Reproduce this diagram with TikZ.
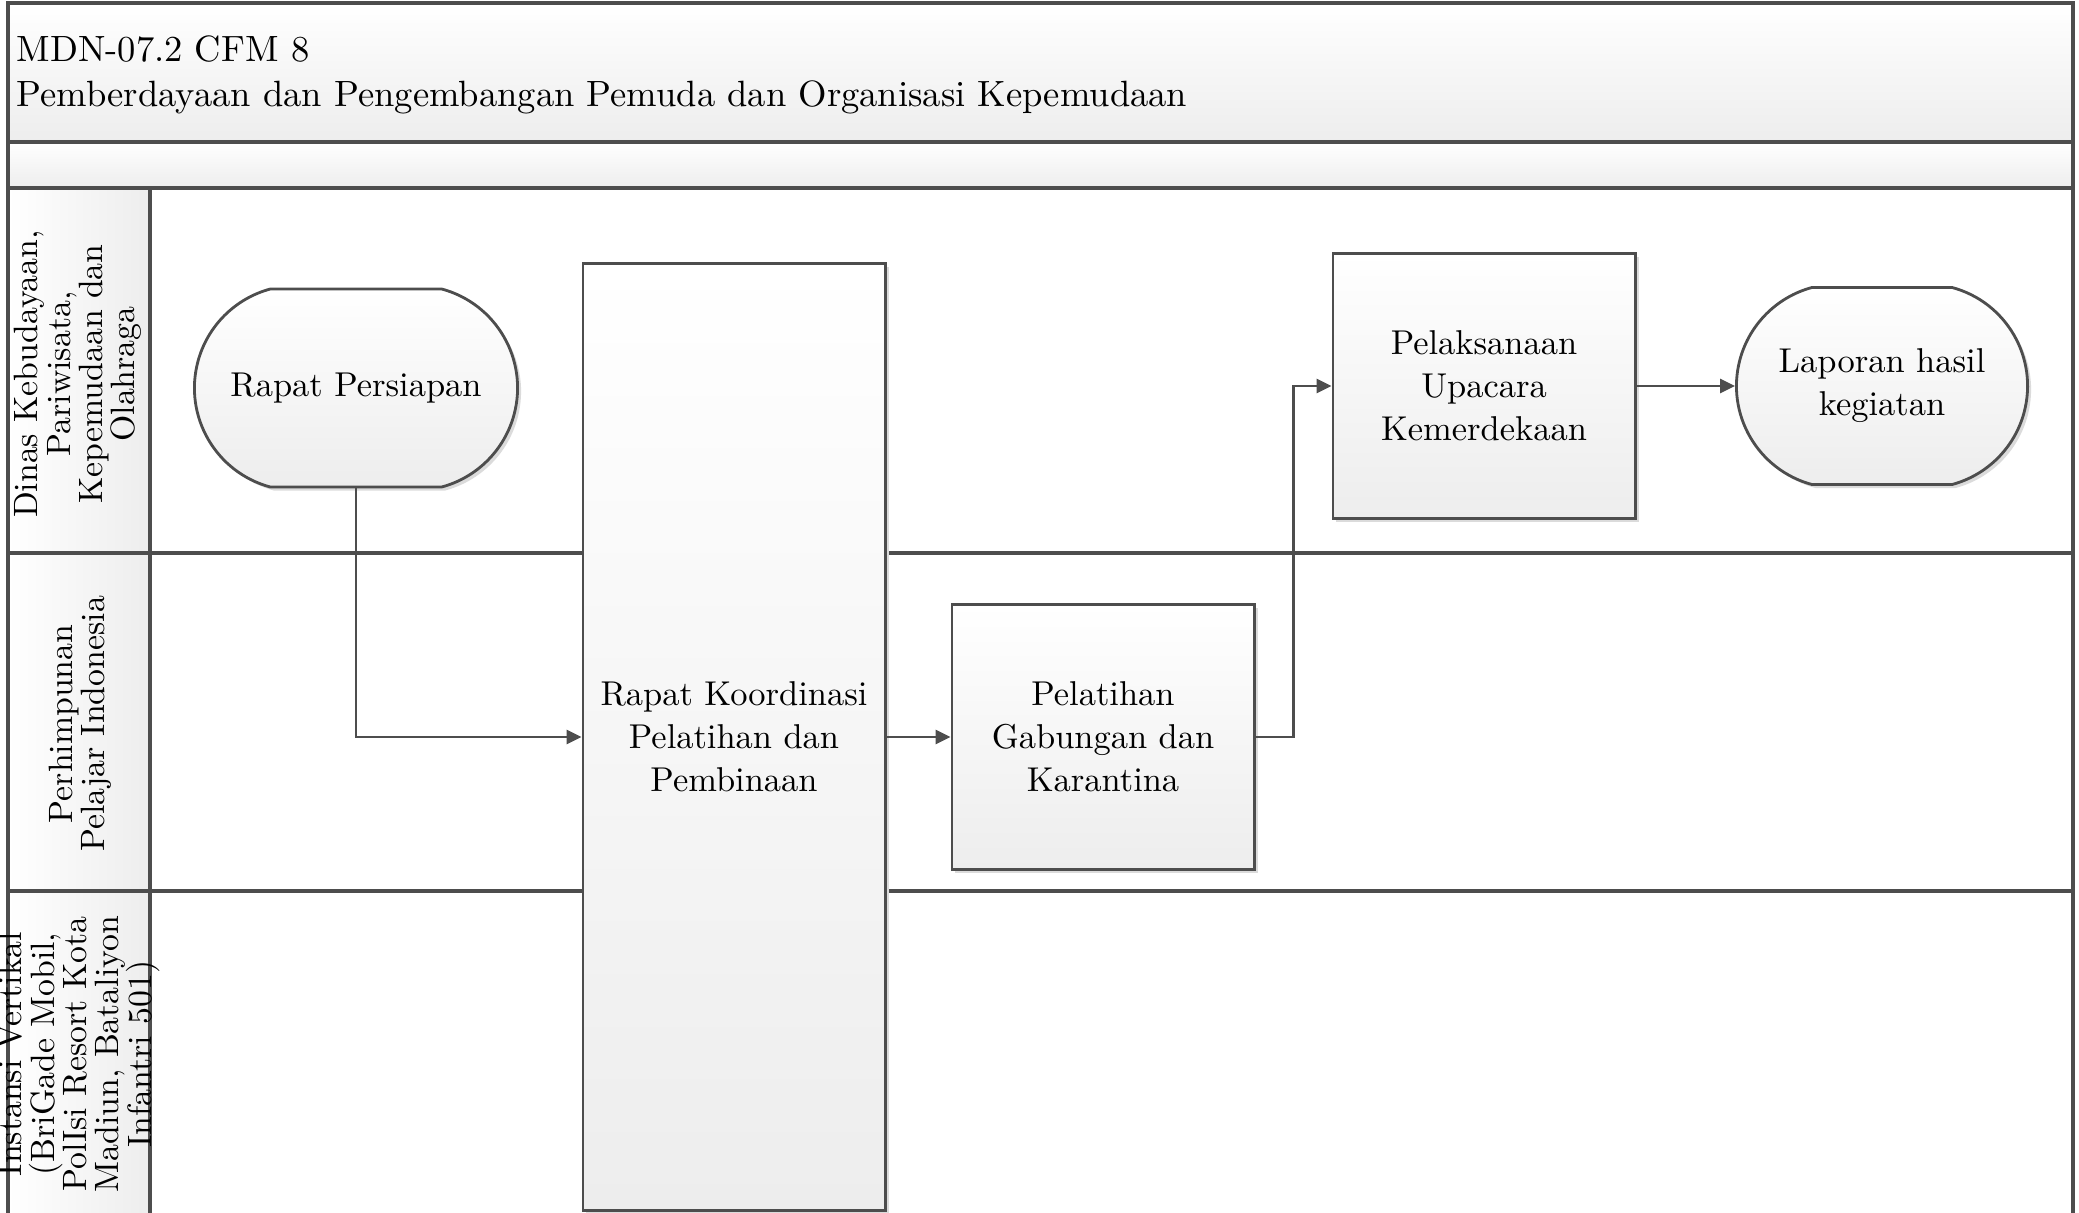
\documentclass[tikz,border=0pt]{standalone}
\usetikzlibrary{arrows.meta,positioning,calc,shapes.misc,shadows}
\definecolor{LaneGray}{HTML}{4D4D4D}
\definecolor{PaleGray}{HTML}{EDEDED}
\tikzset{box/.style={draw=LaneGray,line width=0.8pt,top color=white,bottom color=PaleGray,align=center,inner sep=2pt,font=\fontsize{9.8}{12.2}\selectfont,drop shadow={shadow xshift=0.035cm,shadow yshift=-0.035cm,fill=black!14,opacity=1}},
  term/.style={box,rounded rectangle,rounded rectangle arc length=150},
  arr/.style={-{Triangle[length=1.5mm,width=1.4mm]},line width=0.8pt,LaneGray},
  band/.style={draw=LaneGray,line width=0.9pt,top color=white,bottom color=PaleGray},
  lane/.style={draw=LaneGray,line width=0.9pt},
  lanehead/.style={draw=LaneGray,line width=0.9pt,left color=white,right color=PaleGray},
  lanetext/.style={rotate=90,align=center,inner sep=0pt,font=\fontsize{9.6}{9.2}\selectfont}}

\begin{document}
\begin{tikzpicture}[x=0.01cm,y=-0.01cm]
\useasboundingbox (0,0) rectangle (2079,1212);
% header bands
\draw[band] (8,3) rectangle (2073,142);
\draw[band] (8,142) rectangle (2073,188);
\node[anchor=west,align=left,inner sep=0pt,font=\fontsize{10.4}{13}\selectfont] (title) at (16,75) {MDN-07.2 CFM 8\\Pemberdayaan dan Pengembangan Pemuda dan Organisasi Kepemudaan};
% lanes
\draw[lane] (8,188) rectangle (2073,553);
\draw[lane] (8,553) rectangle (2073,891);
\draw[lane] (8,891) rectangle (2073,1216);
\draw[lanehead] (8,188) rectangle (150,553);
\draw[lanehead] (8,553) rectangle (150,891);
\draw[lanehead] (8,891) rectangle (150,1216);
\node[lanetext] (dinas) at (78,374) {Dinas Kebudayaan,\\Pariwisata,\\Kepemudaan dan\\Olahraga};
\node[lanetext] (ppi) at (80,724) {Perhimpunan\\Pelajar Indonesia};
\node[lanetext] (instansi) at (79,1054) {Instansi Vertikal\\(BriGade Mobil,\\PolIsi Resort Kota\\Madiun, Bataliyon\\Infantri 501)};
% steps
\node[term,minimum width=3.37cm,minimum height=1.98cm] (persiapan) at (356,388) {Rapat Persiapan};
\node[box,minimum width=3.02cm,minimum height=9.46cm] (koordinasi) at (734,737) {Rapat Koordinasi\\Pelatihan dan\\Pembinaan};
\node[box,minimum width=3.02cm,minimum height=2.65cm] (gabungan) at (1103,737) {Pelatihan\\Gabungan dan\\Karantina};
\node[box,minimum width=3.02cm,minimum height=2.65cm] (upacara) at (1484,386) {Pelaksanaan\\Upacara\\Kemerdekaan};
\node[term,minimum width=3.05cm,minimum height=1.97cm] (laporan) at (1882,386) {Laporan hasil\\kegiatan};
% flow
\draw[arr] (persiapan.south) |- (koordinasi.west);
\draw[arr] (koordinasi.east) -- (gabungan.west);
\draw[arr] (gabungan.east) -| ($(gabungan.east)!.5!(upacara.west)$) |- (upacara.west);
\draw[arr] (upacara.east) -- (laporan.west);
\end{tikzpicture}
\end{document}
